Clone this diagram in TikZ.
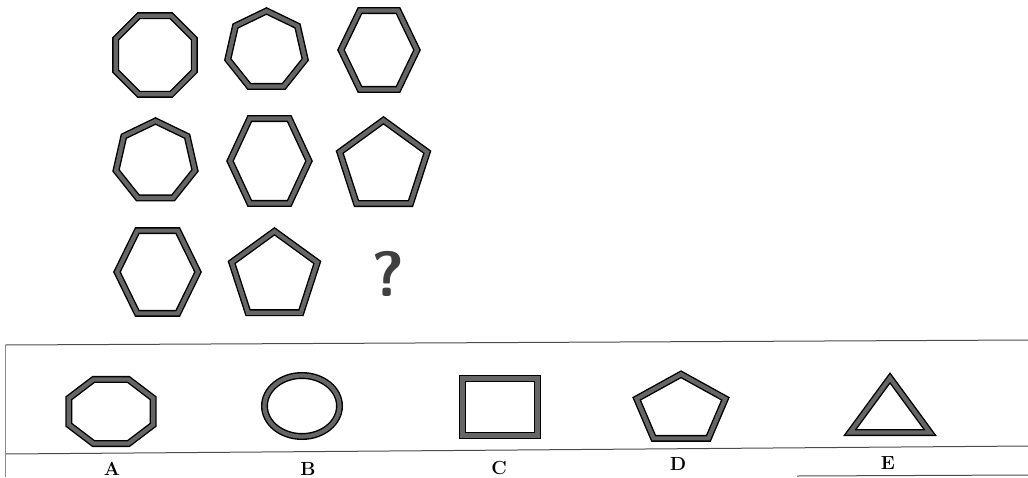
\documentclass[tikz,border=0pt]{standalone}
\usetikzlibrary{shapes.geometric}
\tikzset{
  figure/.style={draw=black, line width=1.4pt, double=black!60,
    double distance=4.2pt, inner sep=0pt, outer sep=0pt}, % thick grey outlines
  poly/.style={figure, regular polygon, regular polygon sides=#1},
  rule/.style={draw=black!70, line width=1pt},
  letter/.style={font=\fontsize{19}{19}\selectfont\bfseries, inner sep=0pt},
}

\begin{document}
\begin{tikzpicture}[x=1pt, y=-1pt]
  \useasboundingbox (0,0) rectangle (1028,477);

  % the grid of figures
  \node[poly=8, minimum size=85pt] (oct) at (155,55) {};
  \node[poly=7, minimum size=79.4pt] (heptA) at (266.5,50.7) {};
  \node[poly=6, minimum size=76pt, yscale=1.2] (hexA) at (379,50) {};

  \node[poly=7, minimum size=81pt] (heptB) at (155.5,161.5) {};
  \node[poly=6, minimum size=79pt, yscale=1.24] (hexB) at (269.5,161) {};
  \node[poly=5, minimum size=92pt] (pentA) at (383.5,166.3) {};

  \node[poly=6, minimum size=81pt, yscale=1.18] (hexC) at (157.5,272) {};
  \node[poly=5, minimum size=90pt] (pentB) at (274.5,276.3) {};
  \node[font=\fontsize{64}{64}\selectfont\sffamily\bfseries, text=black!75,
    inner sep=0pt] (qmark) at (388,274) {?};

  % answer strip
  \draw[rule] (5,345) -- (1028,340);
  \draw[rule] (5,454) -- (1028,446);
  \draw[rule] (797,476) -- (1028,475);
  \draw[draw=black!45, line width=1pt] (5,345) -- (5,477);

  \node[poly=8, minimum size=91.3pt, yscale=0.76] (optA) at (111,411.5) {};
  \node[figure, ellipse, minimum width=75pt, minimum height=61pt] (optB) at (302,406) {};
  \node[figure, rectangle, minimum width=75pt, minimum height=57pt] (optC) at (500,407) {};
  \node[poly=5, minimum size=93.2pt, yscale=0.76] (optD) at (681,409.7) {};
  \node[poly=3, minimum size=92.4pt, yscale=0.787] (optE) at (890,414.4) {};

  \node[letter] (labA) at (112,468.5) {A};
  \node[letter] (labB) at (308,468.5) {B};
  \node[letter] (labC) at (499,467.5) {C};
  \node[letter] (labD) at (678,463.5) {D};
  \node[letter] (labE) at (888,463.5) {E};
\end{tikzpicture}
\end{document}
